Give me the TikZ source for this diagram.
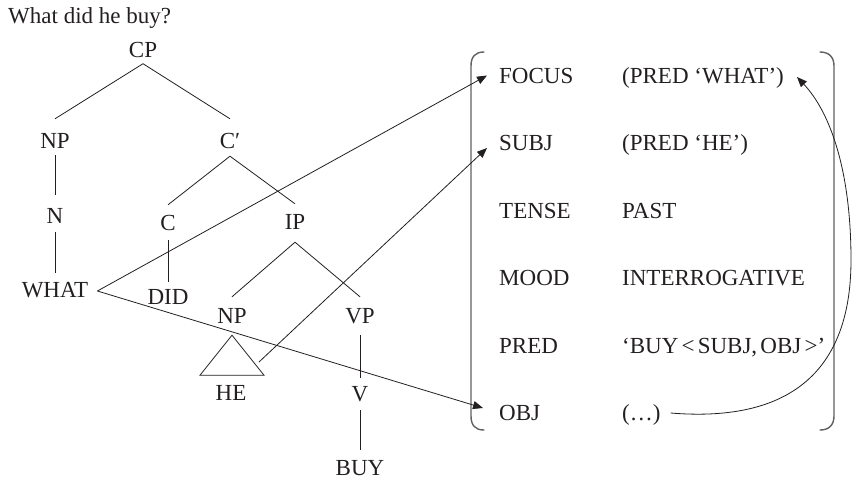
\documentclass[tikz,border=0pt]{standalone}
\usepackage{fontspec}
\setmainfont{Liberation Serif}
\usetikzlibrary{arrows.meta}
\definecolor{ink}{HTML}{231F20}
\begin{document}
\begin{tikzpicture}[x=1pt,y=-1pt,
  lab/.style={inner sep=0pt, text height=15pt, text depth=0pt, text=ink, font=\fontsize{23}{27}\selectfont},
  tree/.style={line width=0.8pt, draw=ink},
  arr/.style={line width=0.8pt, draw=ink, -{Triangle[length=10pt,width=8pt]}},
  brk/.style={line width=1.4pt, draw=black!62, line cap=round}]
\useasboundingbox (0,0) rectangle (857,480);
% title
\node[lab,anchor=west] (title) at (8,15.5) {What did he buy?};
% tree
\node[lab] (cp) at (143,49.5) {CP};
\node[lab] (np1) at (55,141) {NP};
\node[lab] (cbar) at (230,141) {C′};
\node[lab] (n) at (55,216) {N};
\node[lab] (what) at (55,290) {WHAT};
\node[lab] (c) at (168,223) {C};
\node[lab] (ip) at (295,222) {IP};
\node[lab] (did) at (168,297) {DID};
\node[lab] (np2) at (232,316) {NP};
\node[lab] (vp) at (360,316) {VP};
\node[lab] (he) at (231,393) {HE};
\node[lab] (v) at (360,394) {V};
\node[lab] (buy) at (360,468) {BUY};
\draw[tree] ([yshift=-6.5pt]cp.south) -- ([yshift=14.5pt]np1.north);
\draw[tree] ([yshift=-6.5pt]cp.south) -- ([yshift=14.5pt]cbar.north);
\draw[tree] ([yshift=-6.5pt]np1.south) -- ([yshift=13.5pt]n.north);
\draw[tree] ([yshift=-8.5pt]n.south) -- ([yshift=9.5pt]what.north);
\draw[tree] ([yshift=-7.5pt]cbar.south) -- ([yshift=10.5pt]c.north);
\draw[tree] ([yshift=-7.5pt]cbar.south) -- ([yshift=10.5pt]ip.north);
\draw[tree] ([yshift=-9.5pt]c.south) -- ([yshift=7.5pt]did.north);
\draw[tree] ([yshift=-12.5pt]ip.south) -- ([yshift=11.5pt]np2.north);
\draw[tree] ([yshift=-12.5pt]ip.south) -- ([yshift=11.5pt]vp.north);
\draw[tree] ([yshift=-11.5pt]vp.south) -- ([yshift=8.5pt]v.north);
\draw[tree] ([yshift=-8.5pt]v.south) -- ([yshift=10.5pt]buy.north);
\coordinate (triapex) at ([yshift=-11.5pt]np2.south);
\draw[tree, line join=miter] (triapex) -- ++(-32,40) -- ++(64,0) -- cycle;
% f-structure
\node[lab,anchor=west] (focus) at (499,75.5) {FOCUS};
\node[lab,anchor=west] (subj) at (499,143) {SUBJ};
\node[lab,anchor=west] (tense) at (499,210.5) {TENSE};
\node[lab,anchor=west] (mood) at (499,278) {MOOD};
\node[lab,anchor=west] (pred) at (499,345.5) {PRED};
\node[lab,anchor=west] (obj) at (499,413) {OBJ};
\node[lab,anchor=west] (vfocus) at (622,75.5) {(PRED ‘WHAT’)};
\node[lab,anchor=west] (vsubj) at (622,143) {(PRED ‘HE’)};
\node[lab,anchor=west] (vtense) at (622,210.5) {PAST};
\node[lab,anchor=west] (vmood) at (622,278) {INTERROGATIVE};
\node[lab,anchor=west] (vpred) at (622,345.5) {\spaceskip=0.14em\relax ‘BUY < SUBJ, OBJ >’};
\node[lab,anchor=west] (vobj) at (622,413) {(…)};
% brackets
\draw[brk] (484,52) .. controls (475,52) and (471,57) .. (471,66) -- (471,416) .. controls (471,425) and (475,430) .. (484,430);
\draw[brk] (820,52) .. controls (829,52) and (834,57) .. (834,66) -- (834,416) .. controls (834,425) and (829,430) .. (820,430);
% connectors
\coordinate (whatpt) at ([xshift=9pt,yshift=-1pt]what.east);
\coordinate (hept) at (259,362);
\draw[arr] (whatpt) -- ([xshift=-12pt]focus.west);
\draw[arr] (whatpt) -- ([xshift=-16pt,yshift=5pt]obj.west);
\draw[arr] (hept) -- ([xshift=-12pt,yshift=-5pt]subj.west);
\coordinate (dstart) at ([xshift=10pt]vobj.east);
\coordinate (ftip) at ([xshift=13pt,yshift=-1.5pt]vfocus.east);
\draw[arr] (dstart) .. controls (780,422) and (851,380) .. (851,260) .. controls (851,170) and (830,112) .. (ftip);
\end{tikzpicture}
\end{document}
